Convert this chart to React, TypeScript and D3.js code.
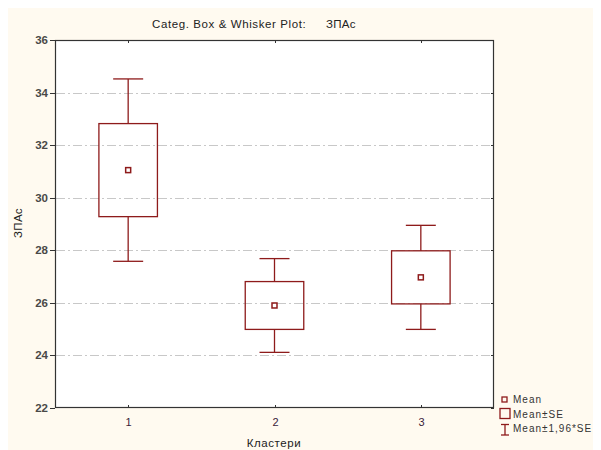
import React from "react";
import * as d3 from "d3";

const categories = ["1", "2", "3"];
const means = [31.05, 25.9, 26.97];
const se = [1.77, 0.91, 1.01];
const yTicks = [22, 24, 26, 28, 30, 32, 34, 36];
const title = "Categ. Box & Whisker Plot:";
const varName = "ЗПАс";
const xLabel = "Кластери";
const legendLabels = ["Mean", "Mean±SE", "Mean±1,96*SE"];

const W = 593;
const H = 442;
const OX = 8; // page offset
const left = 55 - OX, right = 494 - OX, top = 40 - OX, bottom = 408 - OX;
const RED = "#8e1b1b";
const FONT = "'Liberation Sans', Arial, sans-serif";

export default function App() {
  const x = d3.scaleBand<string>().domain(categories).range([left, right]).padding(0);
  const y = d3.scaleLinear().domain([22, 36]).range([bottom, top]);
  const bw = x.bandwidth();
  const boxW = bw * 0.4;
  const capW = bw * 0.205;

  return (
    <svg width={W} height={H} style={{ display: "block" }} fontFamily={FONT}>
      <rect x={0} y={0} width={W} height={H} fill="#fffaf0" />
      <rect x={left} y={top} width={right - left} height={bottom - top} fill="#ffffff" />
      {yTicks.filter((t) => t > 22 && t < 36).map((t) => (
        <line key={"g" + t} x1={left + 1} x2={right - 4} y1={Math.round(y(t)) + 0.5} y2={Math.round(y(t)) + 0.5}
          stroke="#c8c8c8" strokeWidth={1} strokeDasharray="9,3,2,3" />
      ))}
      {yTicks.map((t) => (
        <g key={"t" + t}>
          <line x1={left - 5} x2={left} y1={Math.round(y(t)) + 0.5} y2={Math.round(y(t)) + 0.5} stroke="#333" />
          <line x1={right - 3} x2={right} y1={Math.round(y(t)) + 0.5} y2={Math.round(y(t)) + 0.5} stroke="#333" />
          <text x={left - 7} y={y(t) + 4} textAnchor="end" fontSize={11.5} fill="#2a2a2a" fontWeight="bold" opacity={0.85}>{t}</text>
        </g>
      ))}
      {categories.map((c) => {
        const cx = Math.round((x(c) as number) + bw / 2) + 0.5;
        return (
          <g key={"x" + c}>
            <line x1={cx} x2={cx} y1={top} y2={top + 3} stroke="#333" />
            <line x1={cx} x2={cx} y1={bottom - 3} y2={bottom} stroke="#333" />
            <text x={cx} y={426 - OX} textAnchor="middle" fontSize={11} fill="#3a1a3a">{c}</text>
          </g>
        );
      })}
      <rect x={left + 0.5} y={top + 0.5} width={right - left - 1} height={bottom - top - 1} fill="none" stroke="#333" strokeWidth={1.2} />
      {categories.map((c, i) => {
        const cx = (x(c) as number) + bw / 2;
        const m = means[i];
        const s = se[i];
        const wTop = y(m + 1.96 * s), wBot = y(m - 1.96 * s);
        const bTop = y(m + s), bBot = y(m - s);
        return (
          <g key={"b" + c} stroke={RED} strokeWidth={1.3} fill="none">
            <line x1={cx} x2={cx} y1={wTop} y2={bTop} />
            <line x1={cx} x2={cx} y1={bBot} y2={wBot} />
            <line x1={cx - capW / 2} x2={cx + capW / 2} y1={wTop} y2={wTop} />
            <line x1={cx - capW / 2} x2={cx + capW / 2} y1={wBot} y2={wBot} />
            <rect x={cx - boxW / 2} y={bTop} width={boxW} height={bBot - bTop} />
            <rect x={cx - 2.5} y={y(m) - 2.5} width={5} height={5} strokeWidth={1.5} />
          </g>
        );
      })}
      <text x={152 - OX} y={28 - OX} fontSize={11.5} letterSpacing={0.6} fill="#222">{title}</text>
      <text x={326 - OX} y={28 - OX} fontSize={11.5} letterSpacing={0.3} fill="#222">{varName}</text>
      <text transform={`translate(${22 - OX},${223 - OX}) rotate(-90)`} textAnchor="middle" fontSize={11.5} letterSpacing={0.3} fill="#222">{varName}</text>
      <text x={274 - OX} y={447 - OX} textAnchor="middle" fontSize={11.5} letterSpacing={0.6} fill="#222">{xLabel}</text>
      <g stroke={RED} strokeWidth={1.3} fill="none">
        <rect x={502 - OX} y={397 - OX} width={5} height={5} />
        <rect x={500 - OX} y={408.5 - OX} width={10} height={10} />
        <line x1={505 - OX} x2={505 - OX} y1={424.5 - OX} y2={435 - OX} />
        <line x1={501 - OX} x2={509 - OX} y1={424.5 - OX} y2={424.5 - OX} />
        <line x1={501 - OX} x2={509 - OX} y1={435 - OX} y2={435 - OX} />
      </g>
      {legendLabels.map((l, i) => (
        <text key={l} x={513 - OX} y={[402.5, 417.5, 432][i] - OX} fontSize={10} letterSpacing={1.0} fill="#333">{l}</text>
      ))}
    </svg>
  );
}
